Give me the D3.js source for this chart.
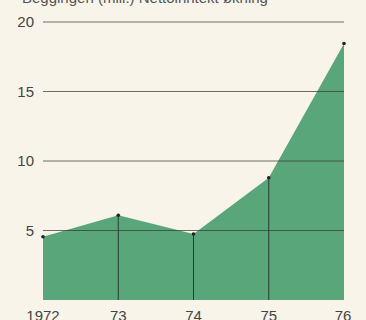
<!DOCTYPE html>
<html>
<head>
<meta charset="utf-8">
<script src="https://cdn.jsdelivr.net/npm/d3@7"></script>
<style>
  html, body { margin: 0; padding: 0; background: #f8f4ea; }
  svg { display: block; }
  text { font-family: "Liberation Sans", Arial, sans-serif; }
</style>
</head>
<body>
<div class="chart"></div>
<script>
// 数据
const years = [1972, 1973, 1974, 1975, 1976]
const yearLabels = ['1972', '73', '74', '75', '76']
const values = [4.55, 6.1, 4.75, 8.8, 18.45]
const yTicks = [5, 10, 15, 20]

const width = 366
const height = 320
const green = '#5aa67b'

const svg = d3.select('.chart').append('svg')
  .attr('width', width)
  .attr('height', height)

// 比例尺
const x = d3.scaleLinear().domain([1972, 1976]).range([43, 344])
const y = d3.scaleLinear().domain([0, 20]).range([300, 22])

// 顶部被裁掉的标题
svg.append('text')
  .attr('x', 22)
  .attr('y', 3)
  .attr('font-size', 15)
  .attr('fill', '#555')
  .text('Beggingen (mill.) Nettoinntekt økning')

// 面积
const area = d3.area()
  .x((d, i) => x(years[i]))
  .y0(y(0))
  .y1(d => y(d))

svg.append('path')
  .datum(values)
  .attr('d', area)
  .attr('fill', green)

// 网格线
svg.append('g')
  .selectAll('line')
  .data(yTicks)
  .join('line')
  .attr('x1', x(1972))
  .attr('x2', x(1976))
  .attr('y1', d => y(d))
  .attr('y2', d => y(d))
  .attr('stroke', '#3d3d3a')
  .attr('stroke-opacity', 0.75)
  .attr('stroke-width', 1)

// 竖线
svg.append('g')
  .selectAll('line')
  .data(values.slice(1, 4))
  .join('line')
  .attr('x1', (d, i) => x(years[i + 1]))
  .attr('x2', (d, i) => x(years[i + 1]))
  .attr('y1', d => y(d))
  .attr('y2', y(0))
  .attr('stroke', '#2a3a30')
  .attr('stroke-width', 1)

// 数据点
svg.append('g')
  .selectAll('circle')
  .data(values)
  .join('circle')
  .attr('cx', (d, i) => x(years[i]))
  .attr('cy', d => y(d))
  .attr('r', 1.8)
  .attr('fill', '#222')

// y 轴标签
svg.append('g')
  .selectAll('text')
  .data(yTicks)
  .join('text')
  .attr('x', 34)
  .attr('y', d => y(d) + 5)
  .attr('text-anchor', 'end')
  .attr('font-size', 15)
  .attr('fill', '#444')
  .text(d => d)

// x 轴标签
svg.append('g')
  .selectAll('text')
  .data(yearLabels)
  .join('text')
  .attr('x', (d, i) => x(years[i]) - (i === 4 ? 1 : 0))
  .attr('y', 321)
  .attr('text-anchor', 'middle')
  .attr('font-size', 15)
  .attr('fill', '#444')
  .text(d => d)
</script>
</body>
</html>
